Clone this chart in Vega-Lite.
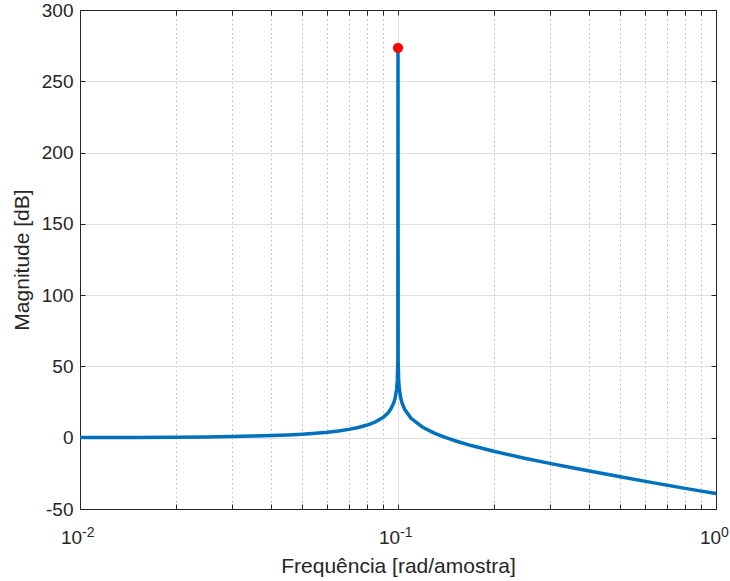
{
  "$schema": "https://vega.github.io/schema/vega-lite/v6.json",
  "width": 636,
  "height": 499,
  "autosize": "none",
  "padding": {"left": 80, "top": 10, "right": 14, "bottom": 72},
  "background": "white",
  "config": {
    "view": {"stroke": null},
    "font": "Liberation Sans",
    "axis": {
      "labelFont": "Liberation Sans",
      "titleFont": "Liberation Sans",
      "labelFontSize": 19,
      "titleFontSize": 21,
      "labelColor": "#262626",
      "titleColor": "#262626",
      "titleFontWeight": "normal",
      "domainColor": "#262626",
      "domainWidth": 1,
      "tickColor": "#262626",
      "tickWidth": 1,
      "tickSize": -5,
      "zindex": 1
    }
  },
  "layer": [
    {
      "data": {
        "values": [
          {"f": 0.01, "db": 0.087},
          {"f": 0.015, "db": 0.198},
          {"f": 0.02, "db": 0.355},
          {"f": 0.025, "db": 0.56},
          {"f": 0.03, "db": 0.82},
          {"f": 0.035, "db": 1.13},
          {"f": 0.04, "db": 1.52},
          {"f": 0.045, "db": 1.96},
          {"f": 0.05, "db": 2.5},
          {"f": 0.055, "db": 3.13},
          {"f": 0.06, "db": 3.88},
          {"f": 0.065, "db": 4.77},
          {"f": 0.07, "db": 5.85},
          {"f": 0.075, "db": 7.2},
          {"f": 0.08, "db": 8.88},
          {"f": 0.085, "db": 11.14},
          {"f": 0.09, "db": 14.43},
          {"f": 0.093, "db": 17.39},
          {"f": 0.095, "db": 20.23},
          {"f": 0.097, "db": 24.58},
          {"f": 0.098, "db": 28.05},
          {"f": 0.099, "db": 34.03},
          {"f": 0.0995, "db": 40.03},
          {"f": 0.0999, "db": 54.0},
          {"f": 0.1, "db": 273.5},
          {"f": 0.1001, "db": 54.0},
          {"f": 0.1005, "db": 39.99},
          {"f": 0.101, "db": 33.94},
          {"f": 0.102, "db": 27.88},
          {"f": 0.103, "db": 24.32},
          {"f": 0.105, "db": 19.79},
          {"f": 0.11, "db": 13.56},
          {"f": 0.12, "db": 7.14},
          {"f": 0.13, "db": 3.24},
          {"f": 0.14, "db": 0.37},
          {"f": 0.15, "db": -1.92},
          {"f": 0.17, "db": -5.51},
          {"f": 0.2, "db": -9.51},
          {"f": 0.25, "db": -14.36},
          {"f": 0.3, "db": -18.0},
          {"f": 0.35, "db": -20.93},
          {"f": 0.4, "db": -23.41},
          {"f": 0.5, "db": -27.42},
          {"f": 0.6, "db": -30.62},
          {"f": 0.7, "db": -33.27},
          {"f": 0.8, "db": -35.52},
          {"f": 0.9, "db": -37.47},
          {"f": 1.0, "db": -39.18}
        ]
      },
      "mark": {"type": "line", "color": "#0072BD", "strokeWidth": 3.5, "strokeJoin": "round"},
      "encoding": {
        "x": {
          "field": "f",
          "type": "quantitative",
          "scale": {"type": "log", "domain": [0.01, 1], "nice": false},
          "axis": {
            "orient": "bottom",
            "title": "Frequência [rad/amostra]",
            "titlePadding": 8,
            "values": [0.01, 0.02, 0.03, 0.04, 0.05, 0.06, 0.07, 0.08, 0.09, 0.1, 0.2, 0.3, 0.4, 0.5, 0.6, 0.7, 0.8, 0.9, 1],
            "labelExpr": "abs(datum.value - 0.01) < 1e-9 || abs(datum.value - 0.1) < 1e-9 || abs(datum.value - 1) < 1e-9 ? '10' : ''",
            "labelOffset": {"condition": {"test": "abs(datum.value - 1) < 1e-9", "value": -6}, "value": -9},
            "labelFlush": false,
            "labelOverlap": false,
            "labelBound": false,
            "labelPadding": 24,
            "labelBaseline": "top",
            "grid": true,
            "gridColor": {"condition": {"test": "abs(datum.value - 0.1) < 1e-9 || abs(datum.value - 0.01) < 1e-9 || abs(datum.value - 1) < 1e-9", "value": "#dfdfdf"}, "value": "#b8b8b8"},
            "gridDash": {"condition": {"test": "abs(datum.value - 0.1) < 1e-9 || abs(datum.value - 0.01) < 1e-9 || abs(datum.value - 1) < 1e-9", "value": []}, "value": [1.5, 3]},
            "gridWidth": 1
          }
        },
        "y": {
          "field": "db",
          "type": "quantitative",
          "scale": {"domain": [-50, 300], "nice": false, "zero": false},
          "axis": {
            "orient": "left",
            "title": "Magnitude [dB]",
            "titlePadding": 9,
            "values": [-50, 0, 50, 100, 150, 200, 250, 300],
            "labelExpr": "datum.value < 0 ? '-' + abs(datum.value) : '' + datum.value",
            "labelPadding": 12,
            "grid": true,
            "gridColor": "#dfdfdf",
            "gridWidth": 1
          }
        }
      }
    },
    {
      "data": {"values": [{"f": 0.1, "db": 273.5}]},
      "mark": {"type": "point", "filled": true, "color": "#ff0000", "opacity": 1, "size": 105},
      "encoding": {
        "x": {
          "field": "f",
          "type": "quantitative",
          "scale": {"type": "log", "domain": [0.01, 1], "nice": false},
          "axis": {
            "orient": "top",
            "title": null,
            "labels": false,
            "grid": false,
            "values": [0.01, 0.02, 0.03, 0.04, 0.05, 0.06, 0.07, 0.08, 0.09, 0.1, 0.2, 0.3, 0.4, 0.5, 0.6, 0.7, 0.8, 0.9, 1]
          }
        },
        "y": {
          "field": "db",
          "type": "quantitative",
          "scale": {"domain": [-50, 300], "nice": false, "zero": false},
          "axis": {
            "orient": "right",
            "title": null,
            "labels": false,
            "grid": false,
            "values": [-50, 0, 50, 100, 150, 200, 250, 300]
          }
        }
      }
    },
    {
      "data": {"values": [{"f": 0.01, "e": "-2"}, {"f": 0.1, "e": "-1"}]},
      "mark": {"type": "text", "align": "left", "baseline": "top", "dx": 2, "dy": 17, "fontSize": 14, "font": "Liberation Sans", "color": "#262626"},
      "encoding": {
        "x": {"field": "f", "type": "quantitative", "scale": {"type": "log", "domain": [0.01, 1], "nice": false}, "axis": null},
        "y": {"datum": -50, "type": "quantitative", "scale": {"domain": [-50, 300], "nice": false, "zero": false}, "axis": null},
        "text": {"field": "e"}
      }
    },
    {
      "data": {"values": [{"f": 1, "e": "0"}]},
      "mark": {"type": "text", "align": "left", "baseline": "top", "dx": 5, "dy": 17, "fontSize": 14, "font": "Liberation Sans", "color": "#262626"},
      "encoding": {
        "x": {"field": "f", "type": "quantitative", "scale": {"type": "log", "domain": [0.01, 1], "nice": false}, "axis": null},
        "y": {"datum": -50, "type": "quantitative", "scale": {"domain": [-50, 300], "nice": false, "zero": false}, "axis": null},
        "text": {"field": "e"}
      }
    }
  ],
  "resolve": {"axis": {"x": "independent", "y": "independent"}}
}
